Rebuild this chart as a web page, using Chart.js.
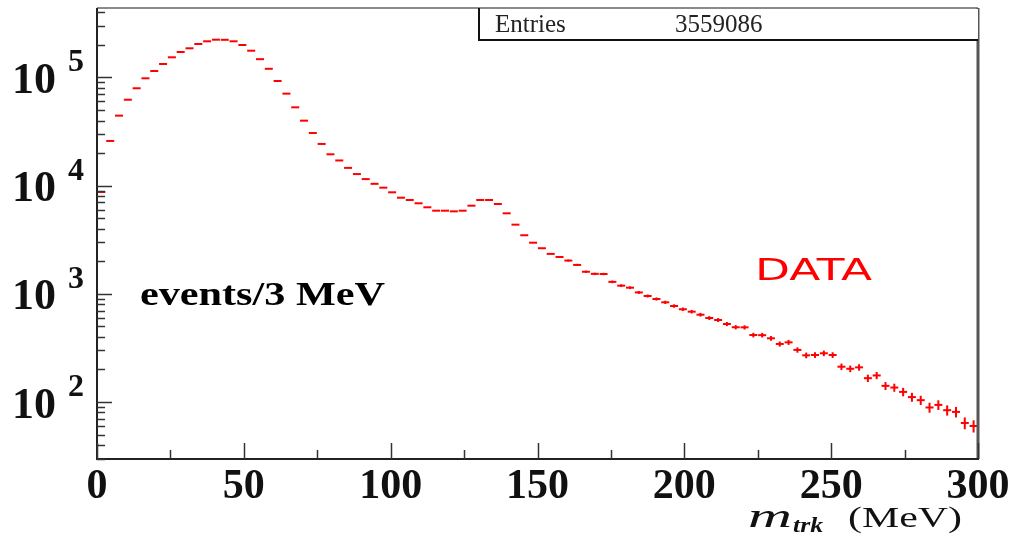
<!DOCTYPE html>
<html>
<head>
<meta charset="utf-8">
<script src="https://cdn.jsdelivr.net/npm/chart.js@4.4.1/dist/chart.umd.min.js"></script>
<style>
  html, body { margin: 0; padding: 0; background: #ffffff; }
  #c { display: block; }
</style>
</head>
<body>
<canvas id="c" width="1015" height="537"></canvas>
<script>
// ---- data (events per 3 MeV bin) ----
const binCenters = [
  1.5, 4.5, 7.5, 10.5, 13.5, 16.5, 19.5, 22.5, 25.5, 28.5,
  31.5, 34.5, 37.5, 40.5, 43.5, 46.5, 49.5, 52.5, 55.5, 58.5,
  61.5, 64.5, 67.5, 70.5, 73.5, 76.5, 79.5, 82.5, 85.5, 88.5,
  91.5, 94.5, 97.5, 100.5, 103.5, 106.5, 109.5, 112.5, 115.5, 118.5,
  121.5, 124.5, 127.5, 130.5, 133.5, 136.5, 139.5, 142.5, 145.5, 148.5,
  151.5, 154.5, 157.5, 160.5, 163.5, 166.5, 169.5, 172.5, 175.5, 178.5,
  181.5, 184.5, 187.5, 190.5, 193.5, 196.5, 199.5, 202.5, 205.5, 208.5,
  211.5, 214.5, 217.5, 220.5, 223.5, 226.5, 229.5, 232.5, 235.5, 238.5,
  241.5, 244.5, 247.5, 250.5, 253.5, 256.5, 259.5, 262.5, 265.5, 268.5,
  271.5, 274.5, 277.5, 280.5, 283.5, 286.5, 289.5, 292.5, 295.5, 298.5
];
const counts = [
  8740, 25900, 44400, 62300, 79500, 98300, 114800, 133300, 153700, 172100,
  186200, 204000, 216100, 223600, 223000, 216100, 199700, 176900, 147700, 120300,
  92800, 70900, 53000, 39900, 30700, 24300, 19500, 17100, 14600, 12800,
  11500, 10400, 9580, 8680, 7740, 7370, 6870, 6310, 5870, 5870,
  5790, 5870, 6530, 7370, 7370, 6770, 5550, 4360, 3480, 2970,
  2640, 2340, 2190, 2030, 1850, 1600, 1530, 1525, 1290, 1190,
  1140, 1030, 955, 896, 835, 772, 720, 684, 641, 598,
  573, 526, 491, 490, 416, 415, 388, 344, 356, 303,
  270, 272, 282, 272, 212, 203, 209, 166, 176, 141,
  136, 124, 111, 104, 89, 94, 84, 81, 64, 60
];
const xMajorTicks = [0, 50, 100, 150, 200, 250, 300];
const xMajorLabels = ['0', '50', '100', '150', '200', '250', '300'];
const xMinorTicks = [25, 75, 125, 175, 225, 275];
const yDecadeExponents = [2, 3, 4, 5];
const entriesLabel = 'Entries';
const entriesValue = '3559086';
const yMin = 29.72, yMax = 439000;
const xMin = 0, xMax = 300;

const points = binCenters.map((x, i) => ({ x: x, y: counts[i] }));

function fitText(ctx, text, x, baseline, width) {
  const w = ctx.measureText(text).width;
  const s = width / w;
  ctx.save();
  ctx.translate(x, baseline);
  ctx.scale(s, 1);
  ctx.textAlign = 'left';
  ctx.textBaseline = 'alphabetic';
  ctx.fillText(text, 0, 0);
  ctx.restore();
}

const rootStyle = {
  id: 'rootStyle',
  afterDatasetsDraw(chart) {
    const ctx = chart.ctx;
    const xs = chart.scales.x, ys = chart.scales.y;
    const a = chart.chartArea;

    // vertical error bars sqrt(N)
    ctx.save();
    ctx.strokeStyle = '#ff0000';
    ctx.lineWidth = 2;
    binCenters.forEach((x, i) => {
      const n = counts[i], e = Math.sqrt(n);
      const px = xs.getPixelForValue(x);
      const y1 = ys.getPixelForValue(n + e), y2 = ys.getPixelForValue(n - e);
      if (y2 - y1 > 2) {
        ctx.beginPath();
        ctx.moveTo(px, y1);
        ctx.lineTo(px, y2);
        ctx.stroke();
      }
    });
    ctx.restore();

    ctx.save();
    // top & right frame (gray)
    ctx.strokeStyle = '#8a8a8a';
    ctx.lineWidth = 2;
    ctx.beginPath();
    ctx.moveTo(a.left, a.top);
    ctx.lineTo(a.right, a.top);
    ctx.stroke();
    ctx.strokeStyle = '#555555';
    ctx.lineWidth = 3;
    ctx.beginPath();
    ctx.moveTo(a.right, a.top);
    ctx.lineTo(a.right, a.bottom);
    ctx.stroke();

    // left & bottom axes
    ctx.strokeStyle = '#222222';
    ctx.lineWidth = 2;
    ctx.beginPath();
    ctx.moveTo(a.left, a.top);
    ctx.lineTo(a.left, a.bottom);
    ctx.lineTo(a.right + 1, a.bottom);
    ctx.stroke();

    // y ticks
    ctx.lineWidth = 1.5;
    ctx.strokeStyle = '#333333';
    for (let p = 1; p <= 5; p++) {
      for (let m = 1; m <= 9; m++) {
        const v = m * Math.pow(10, p);
        if (v < yMin || v > yMax) continue;
        const py = Math.round(ys.getPixelForValue(v)) + 0.5;
        const len = (m === 1) ? 15 : 8;
        ctx.beginPath();
        ctx.moveTo(a.left, py);
        ctx.lineTo(a.left + len, py);
        ctx.stroke();
      }
    }
    // x ticks
    xMajorTicks.forEach(v => {
      const px = Math.round(xs.getPixelForValue(v)) + 0.5;
      ctx.beginPath();
      ctx.moveTo(px, a.bottom);
      ctx.lineTo(px, a.bottom - 16);
      ctx.stroke();
    });
    xMinorTicks.forEach(v => {
      const px = Math.round(xs.getPixelForValue(v)) + 0.5;
      ctx.beginPath();
      ctx.moveTo(px, a.bottom);
      ctx.lineTo(px, a.bottom - 9);
      ctx.stroke();
    });

    // x tick labels
    ctx.fillStyle = '#111111';
    ctx.font = 'bold 42px "Liberation Serif"';
    ctx.textAlign = 'center';
    ctx.textBaseline = 'alphabetic';
    xMajorTicks.forEach((v, i) => {
      ctx.fillText(xMajorLabels[i], xs.getPixelForValue(v), 498);
    });

    // y tick labels 10^n
    yDecadeExponents.forEach(e => {
      const py = ys.getPixelForValue(Math.pow(10, e));
      ctx.textAlign = 'left';
      ctx.font = 'bold 44px "Liberation Serif"';
      ctx.fillText('10', 12, py + 15.5);
      ctx.font = 'bold 32px "Liberation Serif"';
      ctx.fillText(String(e), 68, py - 6);
    });

    // stats box
    ctx.fillStyle = '#ffffff';
    ctx.fillRect(479, a.top + 1, a.right - 479, 40 - a.top - 1);
    ctx.strokeStyle = '#111111';
    ctx.lineWidth = 2;
    ctx.beginPath();
    ctx.moveTo(479, a.top);
    ctx.lineTo(479, 40);
    ctx.lineTo(a.right, 40);
    ctx.stroke();
    ctx.fillStyle = '#222222';
    ctx.font = '25px "Liberation Serif"';
    ctx.textAlign = 'left';
    ctx.fillText(entriesLabel, 495, 32);
    ctx.fillText(entriesValue, 675, 32);

    // annotations
    ctx.fillStyle = '#000000';
    ctx.font = 'bold 33px "Liberation Serif"';
    fitText(ctx, 'events/3 MeV', 140, 305, 245);

    ctx.fillStyle = '#ff0000';
    ctx.font = '31px "DejaVu Sans"';
    fitText(ctx, 'DATA', 755, 280, 117);

    // axis title  m_trk (MeV)
    ctx.fillStyle = '#111111';
    ctx.font = 'italic 33px "Liberation Serif"';
    fitText(ctx, 'm', 748, 527, 44);
    ctx.font = 'italic bold 21px "Liberation Serif"';
    fitText(ctx, 'trk', 793, 532, 30);
    ctx.font = '29px "Liberation Serif"';
    fitText(ctx, '(MeV)', 848, 527, 114);
    ctx.restore();
  }
};

new Chart(document.getElementById('c'), {
  type: 'scatter',
  data: {
    datasets: [{
      data: points,
      pointStyle: 'line',
      pointRadius: 4,
      pointHoverRadius: 4,
      borderColor: '#ff0000',
      backgroundColor: '#ff0000',
      pointBorderWidth: 2,
      borderWidth: 2,
      showLine: false
    }]
  },
  options: {
    responsive: false,
    animation: false,
    layout: { padding: { left: 97, right: 37, top: 8, bottom: 78 } },
    plugins: { legend: { display: false }, tooltip: { enabled: false } },
    events: [],
    scales: {
      x: { type: 'linear', min: xMin, max: xMax, display: false },
      y: { type: 'logarithmic', min: yMin, max: yMax, display: false }
    }
  },
  plugins: [rootStyle]
});
</script>
</body>
</html>
